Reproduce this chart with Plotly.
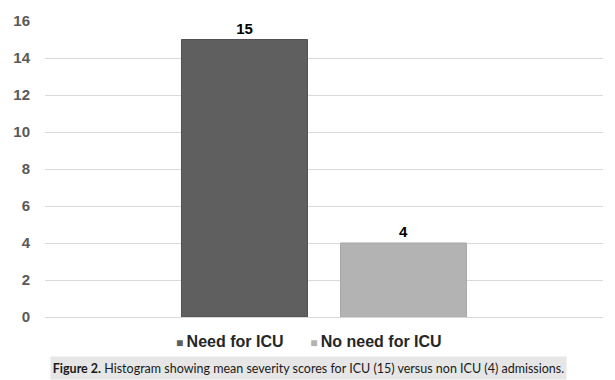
import plotly.graph_objects as go

category = ["Mean severity score"]
series_names = ["Need for ICU", "No need for ICU"]
series_values = [[15], [4]]
series_colors = ["#5f5f5f", "#b3b3b3"]
line_colors = ["#525252", "#a8a8a8"]
y_ticks = [0, 2, 4, 6, 8, 10, 12, 14, 16]
caption_bold = "Figure 2."
caption_rest = " Histogram showing mean severity scores for ICU (15) versus non ICU (4) admissions."

fig = go.Figure()
for name, vals, col, lc in zip(series_names, series_values, series_colors, line_colors):
    fig.add_trace(go.Bar(
        x=category, y=vals, name=name,
        marker=dict(color=col, line=dict(color=lc, width=1)),
        text=[str(v) for v in vals], textposition="outside",
        textfont=dict(family="Liberation Sans, Arial", size=15, color="#000000"),
        texttemplate="<b>%{text}</b>", cliponaxis=False,
        showlegend=False,
    ))

# custom legend (compact markers like the reference)
legend_text = "      ".join(
    f"<span style='color:{c};font-size:12px'>■ </span><b>{n}</b>"
    for n, c in zip(series_names, series_colors)
)
fig.add_annotation(
    xref="paper", yref="paper", x=0.473, y=-0.0825,
    xanchor="center", yanchor="middle", showarrow=False,
    text=legend_text,
    font=dict(family="Liberation Sans, Arial", size=16, color="#262626"),
)

fig.add_annotation(
    xref="paper", yref="paper", x=0.4722, y=-0.1735,
    xanchor="center", yanchor="middle", showarrow=False,
    text=f"<b>{caption_bold}</b>{caption_rest}",
    font=dict(family="Lato, Open Sans", size=12.5, color="#1a1a1a"),
    bgcolor="#e6e6e6", width=513, height=20, borderpad=1, align="center",
)

# page body has an 8px default margin, so the figure is 8px smaller than the window
fig.update_layout(
    width=607, height=372,
    margin=dict(l=37, r=12, t=13, b=62.5, pad=0, autoexpand=False),
    paper_bgcolor="white", plot_bgcolor="white",
    barmode="group", bargap=0.43, bargroupgap=0.2075,
    xaxis=dict(showticklabels=False, showgrid=False, zeroline=False, showline=False,
               automargin=False),
    yaxis=dict(
        range=[0, 16], tickvals=y_ticks, ticktext=[f"<b>{t}</b>" for t in y_ticks],
        showgrid=True, gridcolor="#d9d9d9", gridwidth=1,
        zeroline=True, zerolinecolor="#d9d9d9", zerolinewidth=1,
        showline=False, ticks="", ticklabelstandoff=14, automargin=False,
        tickfont=dict(family="Liberation Sans, Arial", size=15, color="#595959"),
    ),
)

fig.write_html("out.html")
